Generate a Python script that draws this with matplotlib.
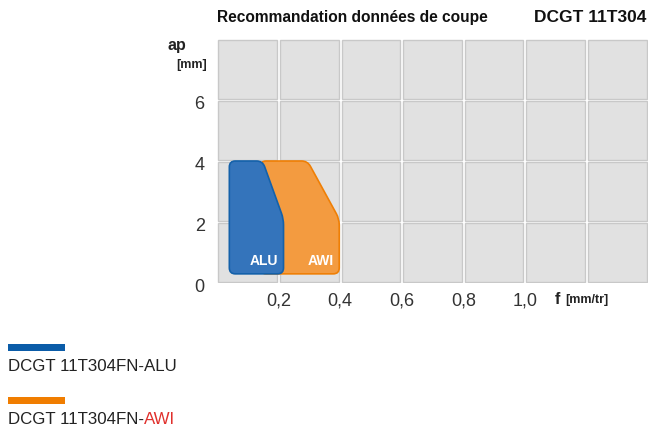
import numpy as np
import matplotlib
matplotlib.use("Agg")
import matplotlib.pyplot as plt
from matplotlib.patches import Rectangle, PathPatch
from matplotlib.path import Path
from matplotlib.transforms import IdentityTransform

plt.rcParams['font.family'] = ['Liberation Sans', 'DejaVu Sans']

# Plages de coupe (f en mm/tr, ap en mm)
alu_f = [0.04, 0.148, 0.216, 0.216, 0.04]
alu_ap = [4.0, 4.0, 2.1, 0.3, 0.3]
awi_f = [0.14, 0.294, 0.397, 0.397, 0.14]
awi_ap = [4.0, 4.0, 2.1, 0.3, 0.3]

x_ticks = [0.2, 0.4, 0.6, 0.8, 1.0]
x_labels = ['0,2', '0,4', '0,6', '0,8', '1,0']
y_ticks = [0, 2, 4, 6]

BLUE_FILL, BLUE_EDGE = '#3474bb', '#1461aa'
ORANGE_FILL, ORANGE_EDGE = '#f39b40', '#ef7f05'

fig = plt.figure(figsize=(6.49, 4.27), dpi=100)
ax = fig.add_axes([0.3344, 0.3349, 0.664, 0.5714])
ax.set_xlim(0, 1.4)
ax.set_ylim(0, 8)
ax.axis('off')

# Cases grises du fond
gx, gy = 0.0045, 0.045
for x0 in np.arange(0, 1.4, 0.2):
    for y0 in np.arange(0, 8, 2):
        ax.add_patch(Rectangle((x0 + gx, y0 + gy), 0.2 - 2 * gx, 2 - 2 * gy,
                               fc='#e1e1e1', ec='#c8c8c8', lw=1, zorder=0))


def rounded(xs, ys, r=6):
    # polygone arrondi, calculé en pixels
    pts = ax.transData.transform(np.column_stack([xs, ys]))
    n = len(pts)
    verts, codes = [], []
    for i in range(n):
        p = pts[i]
        a = pts[i - 1] - p
        b = pts[(i + 1) % n] - p
        ra = min(r, np.linalg.norm(a) / 2)
        rb = min(r, np.linalg.norm(b) / 2)
        s = p + a / np.linalg.norm(a) * ra
        e = p + b / np.linalg.norm(b) * rb
        verts += [s, p, e]
        codes += [Path.MOVETO if i == 0 else Path.LINETO, Path.CURVE3, Path.CURVE3]
    verts.append(verts[0])
    codes.append(Path.CLOSEPOLY)
    return Path(verts, codes)


ax.add_patch(PathPatch(rounded(awi_f, awi_ap), fc=ORANGE_FILL, ec=ORANGE_EDGE,
                       lw=1.2, transform=IdentityTransform(), zorder=2))
ax.add_patch(PathPatch(rounded(alu_f, alu_ap), fc=BLUE_FILL, ec=BLUE_EDGE,
                       lw=1.2, transform=IdentityTransform(), zorder=3))

ax.text(0.2, 0.75, 'ALU', color='white', fontsize=10, fontweight='bold',
        ha='right', va='center', zorder=4)
ax.text(0.378, 0.75, 'AWI', color='white', fontsize=10, fontweight='bold',
        ha='right', va='center', zorder=4)

# Graduations
for x, lab in zip(x_ticks, x_labels):
    ax.text(x, -0.55, lab, ha='center', va='center', fontsize=13, color='#333333')
for y in y_ticks:
    ax.text(-0.04, y - 0.13, str(y), ha='right', va='center', fontsize=13, color='#333333')

ax.text(1.098, -0.52, 'f', ha='left', va='center', fontsize=11.5, fontweight='bold', color='#222222')
ax.text(1.13, -0.54, '[mm/tr]', ha='left', va='center', fontsize=9, fontweight='bold', color='#222222')
fig.text(0.258, 0.894, 'ap', ha='left', va='center', fontsize=11.5, fontweight='bold', color='#222222')
fig.text(0.272, 0.848, '[mm]', ha='left', va='center', fontsize=9, fontweight='bold', color='#222222')

# Titre
fig.text(0.334, 0.958, 'Recommandation données de coupe', ha='left', va='center',
         fontsize=11.2, fontweight='bold', color='#111111')
fig.text(0.996, 0.958, 'DCGT 11T304', ha='right', va='center',
         fontsize=12.5, fontweight='bold', color='#111111')

# Légende
fig.patches.append(Rectangle((8 / 649, 1 - 352 / 427), 57 / 649, 7 / 427,
                             transform=fig.transFigure, fc='#0b5ca8', ec='none'))
fig.patches.append(Rectangle((8 / 649, 1 - 405 / 427), 57 / 649, 7 / 427,
                             transform=fig.transFigure, fc='#f07d00', ec='none'))
fig.text(8 / 649, 1 - 367 / 427, 'DCGT 11T304FN-ALU', ha='left', va='center',
         fontsize=12.2, color='#222222')
t = fig.text(8 / 649, 1 - 420 / 427, 'DCGT 11T304FN-', ha='left', va='center',
             fontsize=12.2, color='#222222')
fig.canvas.draw()
bb = t.get_window_extent().transformed(fig.transFigure.inverted())
fig.text(bb.x1, 1 - 420 / 427, 'AWI', ha='left', va='center', fontsize=12.2, color='#e0302c')

fig.savefig('out.png', dpi=100)
